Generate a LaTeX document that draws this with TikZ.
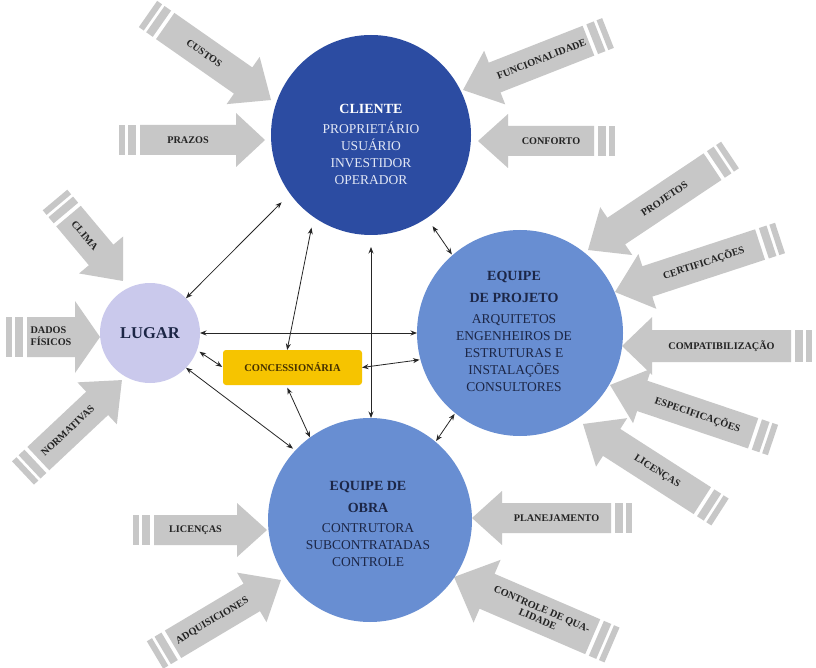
\documentclass[tikz,border=0pt]{standalone}
\usepackage{fontspec}
\setmainfont{Liberation Serif}
\usetikzlibrary{arrows.meta,calc}

\definecolor{clientblue}{RGB}{44,76,162}
\definecolor{teamblue}{RGB}{104,142,210}
\definecolor{placelilac}{RGB}{202,201,236}
\definecolor{utilgold}{RGB}{246,196,0}
\definecolor{flowgray}{RGB}{199,199,199}
\definecolor{inktext}{RGB}{35,35,35}
\definecolor{navytext}{RGB}{28,38,70}
\definecolor{lighttext}{RGB}{226,231,245}
\definecolor{goldtext}{RGB}{70,50,0}

\tikzset{
  hub/.style={circle, inner sep=0pt, outer sep=0pt},
  hubtext/.style={align=center, inner sep=0pt, font=\fontsize{13.5}{17}\selectfont},
  link/.style={{Stealth[length=6.5pt,width=5pt]}-{Stealth[length=6.5pt,width=5pt]},
               line width=0.8pt, draw=black!85},
  flowlabel/.style={font=\fontsize{10.2}{11}\selectfont\bfseries, text=inktext,
                    align=center, inner sep=0pt},
}

% Striped block arrow: #1 half shaft width, #2 head length, #3 label name,
% #4,#5 tail point, #6,#7 tip point, #8 label text
\newcommand\flowin[8]{%
  \pgfmathsetmacro\arDX{#6-#4}%
  \pgfmathsetmacro\arDY{#5-#7}%
  \pgfmathsetmacro\arLEN{veclen(\arDX,\arDY)}%
  \pgfmathsetmacro\arANG{atan2(\arDY,\arDX)}%
  \pgfmathsetmacro\arTXT{cos(\arANG)<-0.01 ? \arANG+180 : \arANG}%
  \pgfmathsetmacro\arBASE{\arLEN-#2}%
  \pgfmathsetmacro\arMID{(21+\arBASE)/2}%
  \begin{scope}[shift={(#4,#5)}, rotate=\arANG, x=1pt, y=1pt]
    \fill[flowgray] (0,-#1) rectangle (6,#1);
    \fill[flowgray] (9,-#1) rectangle (17,#1);
    \fill[flowgray] (21,-#1) -- (\arBASE,-#1) -- (\arBASE,{-1.8*#1}) -- (\arLEN,0)
      -- (\arBASE,{1.8*#1}) -- (\arBASE,#1) -- (21,#1) -- cycle;
    \node[flowlabel, rotate=\arTXT] (#3) at (\arMID,0) {#8};
  \end{scope}}

\begin{document}
\begin{tikzpicture}[x=1pt, y=-1pt]
  \fill[white] (0,0) rectangle (816,668);
  \useasboundingbox (0,0) rectangle (816,668);

  % input arrows
  \flowin{16}{34}{fcustos}{148}{14}{271}{100}{CUSTOS}
  \flowin{15}{29}{fprazos}{119}{140}{265}{140}{PRAZOS}
  \flowin{16}{34}{ffunc}{608}{33}{463}{90}{FUNCIONALIDADE}
  \flowin{15}{30}{fconforto}{615}{141}{478}{141}{CONFORTO}
  \flowin{16}{34}{fprojetos}{730}{155}{588}{250}{PROJETOS}
  \flowin{16}{34}{fcert}{780}{238}{615}{292}{CERTIFICAÇÕES}
  \flowin{16}{30}{fcompat}{812}{346}{622}{346}{COMPATIBILIZAÇÃO}
  \flowin{16}{34}{fespec}{773}{440}{610}{385}{ESPECIFICAÇÕES}
  \flowin{16}{34}{flicd}{720}{512}{583}{424}{LICENÇAS}
  \flowin{15}{30}{fplan}{632}{518}{472}{518}{PLANEJAMENTO}
  \flowin{19}{36}{fqual}{612}{645}{454}{577}{CONTROLE DE QUA-\\LIDADE}
  \flowin{15}{30}{flice}{133}{530}{267}{530}{LICENÇAS}
  \flowin{16}{34}{fadq}{155}{655}{281}{580}{ADQUISICIONES}
  \flowin{16}{34}{fnorm}{23}{473}{122}{380}{NORMATIVAS}
  \flowin{20}{25}{fdados}{6}{337}{100}{337}{\begin{tabular}{@{}l@{}}DADOS\\FÍSICOS\end{tabular}}
  \flowin{16}{34}{fclima}{55}{200}{123}{281}{CLIMA}

  % actors
  \node[hub, fill=clientblue, minimum size=200pt] (cliente) at (371,135) {};
  \node[hubtext, text=lighttext] (clientetxt) at (371,144)
    {{\fontsize{14}{17}\selectfont\bfseries\color{white}CLIENTE}\\[3pt]
     PROPRIETÁRIO\\USUÁRIO\\INVESTIDOR\\OPERADOR};

  \node[hub, fill=teamblue, minimum size=206pt] (projeto) at (520,333) {};
  \node[hubtext, text=navytext] (projetotxt) at (514,331)
    {{\fontsize{14}{17}\selectfont\bfseries EQUIPE}\\[5pt]
     {\fontsize{14}{17}\selectfont\bfseries DE PROJETO}\\[4pt]
     ARQUITETOS\\ENGENHEIROS DE\\ESTRUTURAS E\\INSTALAÇÕES\\CONSULTORES};

  \node[hub, fill=teamblue, minimum size=204pt] (obra) at (370,520) {};
  \node[hubtext, text=navytext] (obratxt) at (368,524)
    {{\fontsize{14}{17}\selectfont\bfseries EQUIPE DE}\\[5pt]
     {\fontsize{14}{17}\selectfont\bfseries OBRA}\\[3pt]
     CONTRUTORA\\SUBCONTRATADAS\\CONTROLE};

  \node[hub, fill=placelilac, minimum size=100pt, text=navytext,
        font=\fontsize{16.5}{18}\selectfont\bfseries] (lugar) at (150,333) {LUGAR};

  \node[fill=utilgold, rounded corners=3pt, minimum width=139pt, minimum height=35pt,
        inner sep=0pt, outer sep=0pt, text=goldtext,
        font=\fontsize{10.5}{12}\selectfont\bfseries] (conc) at (292.5,367.5) {CONCESSIONÁRIA};

  % relations
  \draw[link, shorten >=12pt] (lugar.44) -- (cliente.216);
  \draw[link, shorten >=11pt] (conc.107) -- (cliente.235);
  \draw[link, shorten <=12pt] (cliente.south) -- (cliente.south |- obra.north);
  \draw[link] (lugar.east) -- (lugar.east -| projeto.west);
  \draw[link, shorten <=3pt, shorten >=1pt] (lugar.-20) -- (conc.west);
  \draw[link, shorten >=1pt] (conc.east) -- (projeto.195);
  \draw[link, shorten >=3pt] (lugar.-44) -- (obra.137);
  \draw[link, shorten <=3pt] (conc.-110) -- (obra.126);
  \draw[link, shorten <=10pt, shorten >=1pt] (cliente.-56) -- (projeto.131);
  \draw[link, shorten <=1pt, shorten >=1pt] (projeto.231) -- (obra.50);
\end{tikzpicture}
\end{document}
